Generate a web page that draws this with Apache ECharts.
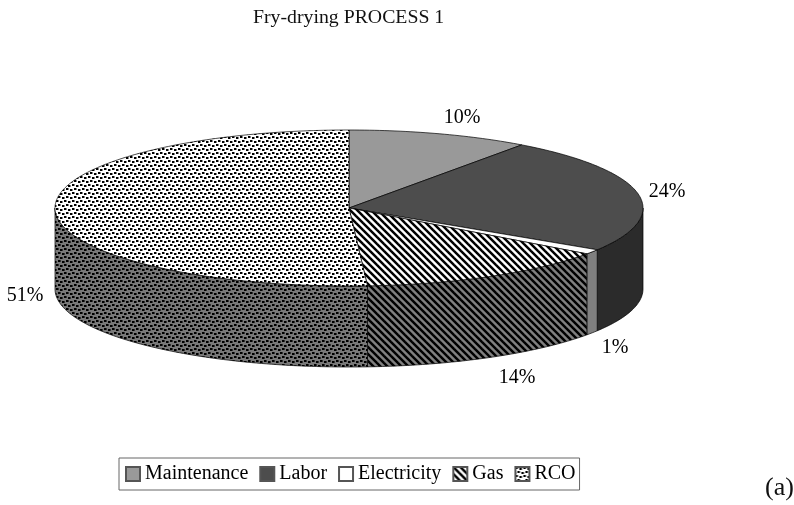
<!DOCTYPE html>
<html><head><meta charset="utf-8">
<style>html,body{margin:0;padding:0;background:#fff}#c{width:794px;height:505px}</style>
<script src="https://cdn.jsdelivr.net/npm/echarts@6/dist/echarts.min.js"></script>
</head><body><div id="c"></div>
<script>
var categories = ['Maintenance', 'Labor', 'Electricity', 'Gas', 'RCO'];
var values = [10, 24, 1, 14, 51];
var chartTitle = 'Fry-drying PROCESS 1';
var panelTag = '(a)';

// layout, kept apart from the data
var FONT = '"Liberation Serif","Times New Roman",serif';
var GEO = {cx: 349, cy: 208, rx: 294, ry: 78, depth: 81};
var labelAt = [[462, 117.5], [667, 191.5], [615, 347.5], [517, 377.5], [25, 295.5]];

function tile(w, h, bg, draw) {
  var c = document.createElement('canvas');
  c.width = w; c.height = h;
  var g = c.getContext('2d');
  g.fillStyle = bg; g.fillRect(0, 0, w, h);
  g.fillStyle = '#000'; g.strokeStyle = '#000';
  draw(g, w, h);
  return {image: c, repeat: 'repeat'};
}
function stripes(bg) {
  return tile(7, 7, bg, function (g, w) {
    g.lineWidth = 2.5;
    for (var o = -w; o <= w; o += w) {
      g.beginPath(); g.moveTo(o - 1, -1); g.lineTo(o + w + 1, w + 1); g.stroke();
    }
  });
}
function dots(bg, mid) {
  var spots = [[0, 0], [4, 1], [2, 4], [6, 5]];
  return tile(8, 8, bg, function (g) {
    spots.forEach(function (s) {
      g.fillStyle = mid; g.fillRect((s[0] + 2) % 8, s[1], 1, 2);
      g.fillStyle = '#000'; g.fillRect(s[0], s[1], 2, 2);
    });
  });
}
var topFill = ['#999999', '#4d4d4d', '#ffffff', stripes('#ffffff'), dots('#ffffff', '#888888')];
var sideFill = ['#6e6e6e', '#2b2b2b', '#808080', stripes('#808080'), dots('#787878', '#333333')];

var total = values.reduce(function (a, b) { return a + b; }, 0);
var starts = [];
values.reduce(function (acc, v, i) { starts[i] = acc; return acc + v; }, 0);

function pt(deg, dy) {
  var t = deg * Math.PI / 180;
  return [GEO.cx + GEO.rx * Math.sin(t), GEO.cy - GEO.ry * Math.cos(t) + (dy || 0)];
}
function arc(a, b, dy) {
  var out = [], n = Math.max(2, Math.ceil(Math.abs(b - a)));
  for (var i = 0; i <= n; i++) out.push(pt(a + (b - a) * i / n, dy));
  return out;
}
function renderSlice(i) {
  return function (params, api) {
    var v = api.value(0);
    var a = starts[i] / total * 360, b = a + v / total * 360;
    var kids = [];
    var sa = Math.max(a, 90), sb = Math.min(b, 270);
    if (sb > sa) {
      kids.push({type: 'polygon',
        shape: {points: arc(sa, sb, 0).concat(arc(sb, sa, GEO.depth))},
        style: {fill: sideFill[i], stroke: '#000', lineWidth: 0.7}});
    }
    kids.push({type: 'polygon',
      shape: {points: [[GEO.cx, GEO.cy]].concat(arc(a, b, 0))},
      style: {fill: topFill[i], stroke: '#000', lineWidth: 0.7}});
    kids.push({type: 'text', x: labelAt[i][0], y: labelAt[i][1],
      style: {text: v + '%', font: '20px ' + FONT, fill: '#000', align: 'center', verticalAlign: 'middle'}});
    return {type: 'group', children: kids};
  };
}

var chart = echarts.init(document.getElementById('c'), null, {renderer: 'canvas'});
chart.setOption({
  animation: false,
  backgroundColor: '#fff',
  title: {text: chartTitle, left: 253, top: 8, padding: 0,
    textStyle: {fontFamily: FONT, fontSize: 19.8, fontWeight: 'normal', color: '#111'}},
  legend: {
    data: categories, left: 119, top: 458, orient: 'horizontal',
    padding: [6, 4, 6, 6], itemGap: 11, itemWidth: 14, itemHeight: 14, icon: 'rect',
    backgroundColor: '#fff', borderColor: '#666', borderWidth: 1,
    selectedMode: false,
    textStyle: {fontFamily: FONT, fontSize: 20, color: '#000'}
  },
  graphic: [{type: 'text', left: 765, top: 475,
    style: {text: panelTag, font: '26px ' + FONT, fill: '#111'}}],
  series: categories.map(function (name, i) {
    return {
      type: 'custom', name: name, coordinateSystem: 'none', silent: true,
      itemStyle: {color: topFill[i], borderColor: '#555', borderWidth: 1},
      renderItem: renderSlice(i), data: [values[i]]
    };
  })
});
</script></body></html>
